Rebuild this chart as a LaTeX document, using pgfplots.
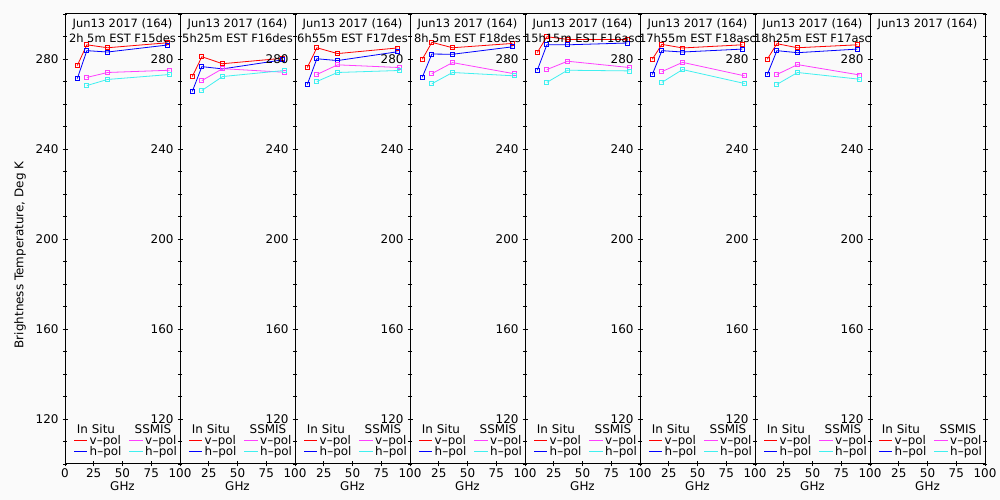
\documentclass[border=0pt]{standalone}
\usepackage{pgfplots}
\pgfplotsset{compat=1.18}
\usepackage{fontspec}
\setmainfont{DejaVu Sans}
\definecolor{bgc}{RGB}{250,250,250}
\definecolor{cred}{RGB}{255,0,0}
\definecolor{cblue}{RGB}{0,0,255}
\definecolor{cmag}{RGB}{255,64,255}
\definecolor{ccyan}{RGB}{64,240,240}
\newcommand\lbl{\fontsize{12}{14}\selectfont}
\newcommand\ttl{\fontsize{11.5}{13}\selectfont}
\pgfplotsset{
 panel/.style={
  scale only axis, width=115bp, height=450bp,
  anchor=south west,
  xmin=0, xmax=100, ymin=100, ymax=300,
  xtick={0,25,50,75,100},
  ytick={120,160,200,240,280},
  minor ytick={100,110,...,300},
  xtick pos=bottom, ytick pos=both,
  yticklabel pos=left,
  tick align=center,
  major tick length=5bp, minor tick length=4bp,
  axis line style={line width=1bp},
  every tick/.style={black, line width=0.8bp},
  every minor tick/.style={black, line width=0.8bp},
  ticklabel style={font=\lbl},
  xticklabel style={yshift=1bp},
  yticklabel style={xshift=-0.5bp},
  /pgf/number format/assume math mode=true,
  clip=false,
 },
 vin/.style={cred, line width=0.8bp, mark=square, mark size=2bp, mark options={solid}},
 hin/.style={cblue, line width=0.8bp, mark=square, mark size=2bp, mark options={solid}},
 vss/.style={cmag, line width=0.8bp, mark=square, mark size=2bp, mark options={solid}},
 hss/.style={ccyan, line width=0.8bp, mark=square, mark size=2bp, mark options={solid}},
}
\newcommand\decor[2]{% #1 left x, #2 line 2 title
  \pgfmathsetmacro\cx{#1+57.5}
  \node[font=\ttl] at (\cx,476) {Jun13 2017 (164)};
  \node[font=\ttl] at (\cx,462) {#2};
  \node[font=\lbl] at (\cx,14) {GHz};
  \pgfmathsetmacro\ax{#1+31}\pgfmathsetmacro\bx{#1+88}
  \node[font=\lbl] at (\ax,71) {In Situ};
  \node[font=\lbl] at (\bx,71) {SSMIS};
  \pgfmathsetmacro\la{#1+9}\pgfmathsetmacro\lb{#1+22}
  \pgfmathsetmacro\lc{#1+64}\pgfmathsetmacro\ld{#1+78}
  \pgfmathsetmacro\ta{#1+24.5}\pgfmathsetmacro\tb{#1+80}
  \draw[draw=cred, line width=1bp] (\la,59) -- (\lb,59);
  \draw[draw=cblue, line width=1bp] (\la,48) -- (\lb,48);
  \draw[draw=cmag, line width=1bp] (\lc,59) -- (\ld,59);
  \draw[draw=ccyan, line width=1bp] (\lc,48) -- (\ld,48);
  \node[font=\lbl, anchor=west, inner sep=0pt] at (\ta,59) {v--pol};
  \node[font=\lbl, anchor=west, inner sep=0pt] at (\ta,48) {h--pol};
  \node[font=\lbl, anchor=west, inner sep=0pt] at (\tb,59) {v--pol};
  \node[font=\lbl, anchor=west, inner sep=0pt] at (\tb,48) {h--pol};
}
\begin{document}
\begin{tikzpicture}[x=1bp,y=1bp]
\fill[bgc] (0,0) rectangle (1000,500);
\node[font=\lbl, rotate=90] at (20,245) {Brightness Temperature, Deg K};
% Panel 1
\begin{axis}[panel, at={(65bp,36bp)}, xticklabels={0,25,50,75,100}]
\addplot[vin] coordinates {(10.7,277.1) (19,286.3) (37,285.0) (89,287.2)};
\addplot[hin] coordinates {(10.7,271.3) (19,283.7) (37,283.1) (89,286.2)};
\addplot[vss] coordinates {(19,271.8) (37,274.0) (91,275.0)};
\addplot[hss] coordinates {(19,268.2) (37,270.9) (91,273.1)};
\end{axis}
% Panel 2
\begin{axis}[panel, at={(180bp,36bp)}, xticklabels={,25,50,75,100}]
\addplot[vin] coordinates {(10.7,272.2) (19,281.0) (37,277.9) (89,280.3)};
\addplot[hin] coordinates {(10.7,265.6) (19,276.6) (37,275.6) (89,279.6)};
\addplot[vss] coordinates {(19,270.4) (37,275.7) (91,274.1)};
\addplot[hss] coordinates {(19,266.0) (37,272.2) (91,274.9)};
\end{axis}
% Panel 3
\begin{axis}[panel, at={(295bp,36bp)}, xticklabels={,25,50,75,100}]
\addplot[vin] coordinates {(10.7,276.2) (19,285.0) (37,282.4) (89,284.9)};
\addplot[hin] coordinates {(10.7,268.7) (19,280.1) (37,279.3) (89,283.2)};
\addplot[vss] coordinates {(19,273.1) (37,277.4) (91,276.2)};
\addplot[hss] coordinates {(19,270.0) (37,274.0) (91,274.9)};
\end{axis}
% Panel 4
\begin{axis}[panel, at={(410bp,36bp)}, xticklabels={,25,50,75,100}]
\addplot[vin] coordinates {(10.7,279.9) (19,287.4) (37,285.0) (89,286.9)};
\addplot[hin] coordinates {(10.7,271.9) (19,282.2) (37,282.1) (89,285.4)};
\addplot[vss] coordinates {(19,273.5) (37,278.4) (91,273.4)};
\addplot[hss] coordinates {(19,269.0) (37,274.0) (91,272.5)};
\end{axis}
% Panel 5
\begin{axis}[panel, at={(525bp,36bp)}, xticklabels={,25,50,75,100}]
\addplot[vin] coordinates {(10.7,282.9) (19,289.9) (37,288.7) (89,288.7)};
\addplot[hin] coordinates {(10.7,275.0) (19,286.3) (37,286.3) (89,287.1)};
\addplot[vss] coordinates {(19,275.3) (37,279.0) (91,276.2)};
\addplot[hss] coordinates {(19,269.6) (37,275.0) (91,274.7)};
\end{axis}
% Panel 6
\begin{axis}[panel, at={(640bp,36bp)}, xticklabels={,25,50,75,100}]
\addplot[vin] coordinates {(10.7,279.9) (19,286.5) (37,284.9) (89,286.3)};
\addplot[hin] coordinates {(10.7,273.1) (19,283.7) (37,283.1) (89,284.4)};
\addplot[vss] coordinates {(19,274.4) (37,278.5) (91,272.5)};
\addplot[hss] coordinates {(19,269.6) (37,275.3) (91,269.1)};
\end{axis}
% Panel 7
\begin{axis}[panel, at={(755bp,36bp)}, xticklabels={,25,50,75,100}]
\addplot[vin] coordinates {(10.7,279.9) (19,286.8) (37,285.0) (89,286.3)};
\addplot[hin] coordinates {(10.7,273.1) (19,283.7) (37,282.8) (89,284.4)};
\addplot[vss] coordinates {(19,273.1) (37,277.5) (91,272.9)};
\addplot[hss] coordinates {(19,268.7) (37,274.0) (91,271.0)};
\end{axis}
% Panel 8
\begin{axis}[panel, at={(870bp,36bp)}, xticklabels={,25,50,75,100}]
\addplot[draw=none] coordinates {(50,200)};
\end{axis}
\decor{65}{2h 5m EST F15des}
\decor{180}{5h25m EST F16des}
\decor{295}{6h55m EST F17des}
\decor{410}{8h 5m EST F18des}
\decor{525}{15h15m EST F16asc}
\decor{640}{17h55m EST F18asc}
\decor{755}{18h25m EST F17asc}
\decor{870}{}
\path (0,0) rectangle (1000,500);
\end{tikzpicture}
\end{document}
